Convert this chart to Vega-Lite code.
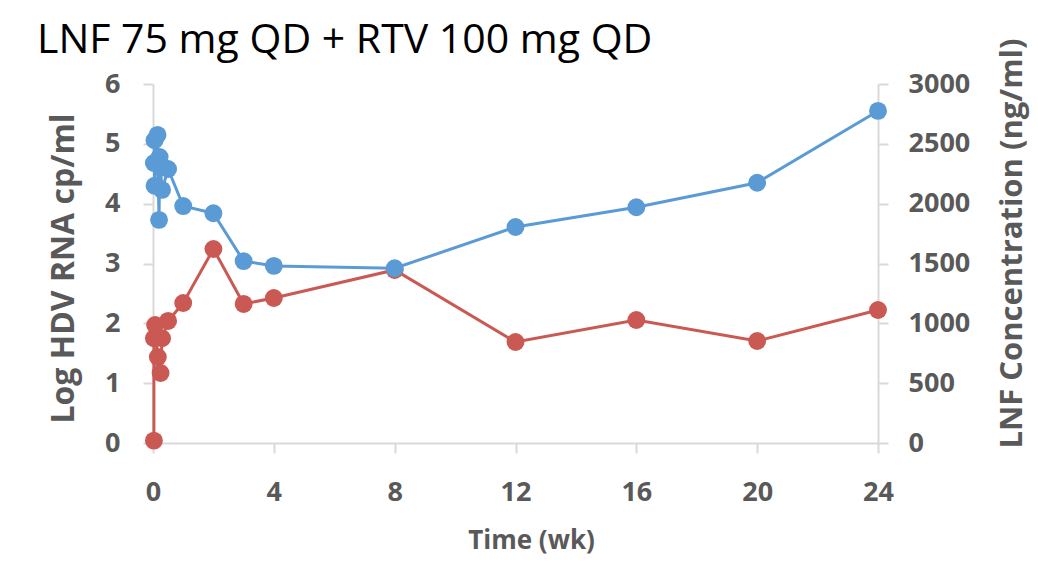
{
  "$schema": "https://vega.github.io/schema/vega-lite/v6.json",
  "autosize": {"type": "none"},
  "width": 725,
  "height": 359,
  "padding": {"left": 153, "top": 84, "right": 160, "bottom": 126},
  "background": "white",
  "config": {
    "view": {"stroke": null},
    "axis": {
      "labelFont": "Open Sans", "labelFontWeight": "bold", "labelFontSize": 27, "labelColor": "#595959",
      "titleFont": "Open Sans", "titleFontWeight": "bold", "titleColor": "#595959",
      "domainColor": "#d9d9d9", "domainWidth": 2, "tickColor": "#d9d9d9", "tickWidth": 2, "tickSize": 10,
      "grid": false, "labelFlush": false
    }
  },
  "title": {
    "text": "LNF 75 mg QD + RTV 100 mg QD",
    "font": "Open Sans", "fontSize": 41, "fontWeight": "normal", "color": "black",
    "anchor": "start", "frame": "group", "dx": -116, "dy": 30, "offset": 6
  },
  "datasets": {
    "hdv": [
      {"t": 0.03, "log": 4.68},
      {"t": 0.05, "log": 5.06},
      {"t": 0.15, "log": 5.15},
      {"t": 0.22, "log": 4.78},
      {"t": 0.05, "log": 4.30},
      {"t": 0.3, "log": 4.23},
      {"t": 0.2, "log": 3.73},
      {"t": 0.5, "log": 4.58},
      {"t": 1, "log": 3.96},
      {"t": 2, "log": 3.84},
      {"t": 3, "log": 3.04},
      {"t": 4, "log": 2.96},
      {"t": 8, "log": 2.92},
      {"t": 12, "log": 3.61},
      {"t": 16, "log": 3.94},
      {"t": 20, "log": 4.35},
      {"t": 24, "log": 5.55}
    ],
    "lnf": [
      {"t": 0.03, "conc": 20},
      {"t": 0.25, "conc": 585},
      {"t": 0.16, "conc": 719},
      {"t": 0.03, "conc": 875},
      {"t": 0.07, "conc": 986},
      {"t": 0.3, "conc": 875},
      {"t": 0.5, "conc": 1020},
      {"t": 1, "conc": 1170},
      {"t": 2, "conc": 1621},
      {"t": 3, "conc": 1162},
      {"t": 4, "conc": 1212},
      {"t": 8, "conc": 1446},
      {"t": 12, "conc": 844},
      {"t": 16, "conc": 1028},
      {"t": 20, "conc": 852},
      {"t": 24, "conc": 1111}
    ]
  },
  "encoding": {
    "x": {
      "field": "t", "type": "quantitative",
      "scale": {"domain": [0, 24], "nice": false, "zero": false},
      "axis": {"values": [0, 4, 8, 12, 16, 20, 24], "title": "Time (wk)", "titleFontSize": 26, "titleX": 378, "labelPadding": 26, "titlePadding": 22}
    }
  },
  "layer": [
    {
      "data": {"name": "lnf"},
      "encoding": {
        "y": {
          "field": "conc", "type": "quantitative",
          "scale": {"domain": [0, 3000], "nice": false},
          "axis": {"orient": "right", "values": [0, 500, 1000, 1500, 2000, 2500, 3000], "format": "d", "title": "LNF Concentration (ng/ml)", "titleFontSize": 31, "titleAngle": 270, "titleBaseline": "top", "titleY": 159, "labelPadding": 20, "titlePadding": 28}
        }
      },
      "layer": [
        {"mark": {"type": "line", "color": "#cb5953", "strokeWidth": 3}},
        {"mark": {"type": "circle", "color": "#cb5953", "opacity": 1, "size": 320}}
      ]
    },
    {
      "data": {"name": "hdv"},
      "encoding": {
        "y": {
          "field": "log", "type": "quantitative",
          "scale": {"domain": [0, 6], "nice": false},
          "axis": {"orient": "left", "values": [0, 1, 2, 3, 4, 5, 6], "title": "Log HDV RNA cp/ml", "titleFontSize": 32, "titleY": 184, "labelPadding": 23, "titlePadding": 24}
        }
      },
      "layer": [
        {"mark": {"type": "line", "color": "#5b9bd5", "strokeWidth": 3}},
        {"mark": {"type": "circle", "color": "#5b9bd5", "opacity": 1, "size": 320}}
      ]
    }
  ],
  "resolve": {"scale": {"y": "independent"}}
}
